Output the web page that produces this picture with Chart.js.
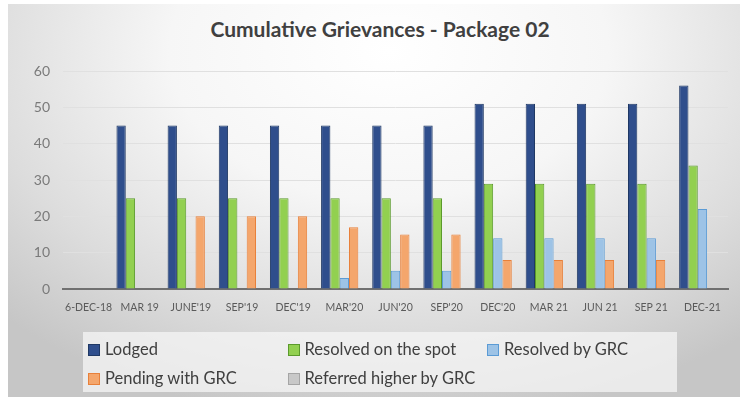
<!DOCTYPE html>
<html>
<head>
<meta charset="utf-8">
<script src="https://cdn.jsdelivr.net/npm/chart.js@4/dist/chart.umd.min.js"></script>
<style>
  html, body { margin: 0; padding: 0; background: #ffffff; }
  #wrap { position: relative; width: 740px; height: 397px; overflow: hidden; font-family: Lato, "Open Sans", sans-serif; }
  #panel {
    position: absolute; left: 8px; top: 4px; width: 732px; height: 393px;
    background: radial-gradient(ellipse 75% 95% at 52% 12%, #ffffff 0%, #f6f6f6 40%, #dcdcdc 75%, #c6c6c6 100%);
  }
  #chart { position: absolute; left: 0; top: 0; }
  #title {
    position: absolute; left: 0; top: 16px; width: 760px; text-align: center;
    font-size: 21px; font-weight: bold; color: #404040;
  }
  #legend {
    position: absolute; left: 83px; top: 332px; width: 594px; height: 60px;
    background: rgba(245, 245, 245, 0.75);
  }
  .item {
    position: absolute; font-size: 16.5px; color: #404040; line-height: 20px; white-space: nowrap;
  }
  .item span.box {
    display: inline-block; width: 10px; height: 10px; border: 1px solid; margin-right: 5px; vertical-align: -1px;
  }
</style>
</head>
<body>
<div id="wrap">
  <div id="panel"></div>
  <div id="title">Cumulative Grievances - Package 02</div>
  <canvas id="chart" width="740" height="397"></canvas>
  <div id="legend"></div>
</div>
<script>
// quarter labels along the x axis
const quarters = ["6-DEC-18", "MAR 19", "JUNE'19", "SEP'19", "DEC'19", "MAR'20", "JUN'20",
                  "SEP'20", "DEC'20", "MAR 21", "JUN 21", "SEP 21", "DEC-21"];

const lodged          = [0, 45, 45, 45, 45, 45, 45, 45, 51, 51, 51, 51, 56];
const resolvedOnSpot  = [0, 25, 25, 25, 25, 25, 25, 25, 29, 29, 29, 29, 34];
const resolvedByGrc   = [0, 0, 0, 0, 0, 3, 5, 5, 14, 14, 14, 14, 22];
const pendingWithGrc  = [0, 0, 20, 20, 20, 17, 15, 15, 8, 8, 8, 8, 0];
const referredHigher  = [0, 0, 0, 0, 0, 0, 0, 0, 0, 0, 0, 0, 0];

const yTicks = [0, 10, 20, 30, 40, 50, 60];

const series = [
    { label: 'Lodged', data: lodged, fill: '#2f4e8c', line: '#1f3864' },
    { label: 'Resolved on the spot', data: resolvedOnSpot, fill: '#92d050', line: '#5b9a2c' },
    { label: 'Resolved by GRC', data: resolvedByGrc, fill: '#9dc3e6', line: '#5b9bd5' },
    { label: 'Pending with GRC', data: pendingWithGrc, fill: '#f4a66c', line: '#e8803a' },
    { label: 'Referred higher by GRC', data: referredHigher, fill: '#c8c8c8', line: '#a5a5a5' }
];

const chart = new Chart(document.getElementById('chart'), {
    type: 'bar',
    data: {
        labels: quarters,
        datasets: series.map(s => ({
            label: s.label,
            data: s.data,
            backgroundColor: s.fill,
            borderColor: s.line,
            borderWidth: 1,
            borderSkipped: 'bottom',
            categoryPercentage: 0.91,
            barPercentage: 1
        }))
    },
    options: {
        responsive: false,
        animation: false,
        layout: { padding: { left: 0, right: 12, top: 71, bottom: 0 } },
        plugins: {
            legend: { display: false },
            title: { display: false },
            tooltip: { enabled: false }
        },
        scales: {
            x: {
                grid: { display: false },
                border: { display: true, color: '#707070', width: 2 },
                ticks: {
                    autoSkip: false, maxRotation: 0, padding: 4,
                    color: '#5a5a5a',
                    font: { family: 'Lato', size: 10.5 }
                },
                afterFit: scale => { scale.height = 108; }
            },
            y: {
                min: 0, max: 60,
                grid: { color: '#e0e0e0', drawTicks: false },
                border: { display: false },
                afterBuildTicks: scale => { scale.ticks = yTicks.map(v => ({ value: v })); },
                ticks: {
                    padding: 13,
                    color: '#7a7a7a',
                    font: { family: 'Lato', size: 14 }
                },
                afterFit: scale => { scale.width = 63; }
            }
        }
    }
});

// legend laid out as a grid: three columns, two rows
const legendBox = document.getElementById('legend');
chart.data.datasets.forEach((ds, i) => {
    const col = i % 3;
    const row = Math.floor(i / 3);
    const item = document.createElement('div');
    item.className = 'item';
    item.style.left = (5 + col * 199.5) + 'px';
    item.style.top = (7 + row * 29) + 'px';
    item.innerHTML = `<span class="box" style="background:${ds.backgroundColor};border-color:${ds.borderColor}"></span>${ds.label}`;
    legendBox.appendChild(item);
});
</script>
</body>
</html>
